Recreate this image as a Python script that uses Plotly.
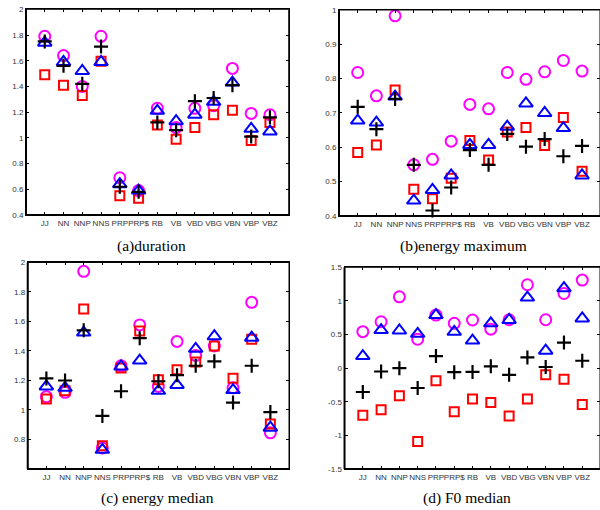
import plotly.graph_objects as go

categories = ["JJ", "NN", "NNP", "NNS", "PRP", "PRP$", "RB", "VB", "VBD", "VBG", "VBN", "VBP", "VBZ"]

duration_circle = [1.79, 1.64, 1.40, 1.79, 0.69, 0.59, 1.23, 1.08, 1.23, 1.25, 1.54, 1.19, 1.18]
duration_square = [1.49, 1.41, 1.33, 1.595, 0.55, 0.53, 1.10, 0.99, 1.08, 1.18, 1.215, 0.98, 1.12]
duration_triangle = [1.74, 1.59, 1.52, 1.59, 0.64, 0.59, 1.21, 1.13, 1.18, 1.28, 1.43, 1.07, 1.05]
duration_plus = [1.75, 1.56, 1.42, 1.71, 0.62, 0.58, 1.12, 1.06, 1.285, 1.31, 1.41, 1.01, 1.16]

emax_circle = [0.818, 0.75, 0.983, 0.549, 0.565, 0.618, 0.725, 0.712, 0.818, 0.798, 0.82, 0.853, 0.822]
emax_square = [0.585, 0.607, 0.767, 0.478, 0.45, 0.51, 0.62, 0.563, 0.645, 0.658, 0.605, 0.687, 0.53]
emax_triangle = [0.678, 0.672, 0.748, 0.445, 0.476, 0.518, 0.607, 0.607, 0.66, 0.728, 0.70, 0.656, 0.518]
emax_plus = [0.718, 0.653, 0.741, 0.549, 0.416, 0.483, 0.592, 0.549, 0.639, 0.602, 0.624, 0.574, 0.604]

emed_circle = [1.09, 1.12, 1.94, 0.743, 1.30, 1.577, 1.16, 1.465, 1.37, 1.434, 1.15, 1.73, 0.845]
emed_square = [1.075, 1.13, 1.685, 0.757, 1.285, 1.535, 1.205, 1.273, 1.325, 1.434, 1.215, 1.48, 0.905]
emed_triangle = [1.16, 1.15, 1.525, 0.73, 1.295, 1.335, 1.13, 1.17, 1.415, 1.50, 1.135, 1.49, 0.88]
emed_plus = [1.214, 1.20, 1.54, 0.96, 1.127, 1.487, 1.195, 1.236, 1.30, 1.33, 1.05, 1.30, 0.986]

f0_circle = [0.543, 0.69, 1.06, 0.43, 0.79, 0.667, 0.716, 0.58, 0.72, 1.24, 0.72, 1.11, 1.31]
f0_square = [-0.70, -0.62, -0.41, -1.09, -0.186, -0.65, -0.46, -0.51, -0.71, -0.46, -0.097, -0.166, -0.54]
f0_triangle = [0.18, 0.567, 0.56, 0.51, 0.79, 0.54, 0.41, 0.667, 0.716, 1.05, 0.26, 1.19, 0.74]
f0_plus = [-0.355, -0.05, 0.0, -0.295, 0.18, -0.06, -0.057, 0.027, -0.10, 0.16, 0.017, 0.38, 0.11]

titles = ["(a)duration", "(b)energy maximum", "(c) energy median", "(d) F0 median"]

ytick_a = [0.4, 0.6, 0.8, 1.0, 1.2, 1.4, 1.6, 1.8, 2.0]
ytick_a_text = ["0.4", "0.6", "0.8", "1", "1.2", "1.4", "1.6", "1.8", "2"]
ytick_b = [0.4, 0.5, 0.6, 0.7, 0.8, 0.9, 1.0]
ytick_b_text = ["0.4", "0.5", "0.6", "0.7", "0.8", "0.9", "1"]
ytick_c = [0.8, 1.0, 1.2, 1.4, 1.6, 1.8, 2.0]
ytick_c_text = ["0.8", "1", "1.2", "1.4", "1.6", "1.8", "2"]
ytick_d = [-1.5, -1.0, -0.5, 0.0, 0.5, 1.0, 1.5]
ytick_d_text = ["-1.5", "-1", "-0.5", "0", "0.5", "1", "1.5"]

panels = [
    dict(data=[duration_circle, duration_square, duration_triangle, duration_plus],
         xd=[0.0433, 0.4812], yd=[0.5784, 0.9818], xr=[-1, 13], yr=[0.4, 2.0],
         yt=ytick_a, ytt=ytick_a_text, tx=0.253, ty=0.5176),
    dict(data=[emax_circle, emax_square, emax_triangle, emax_plus],
         xd=[0.565, 1.0], yd=[0.5765, 0.9804], xr=[-1, 12.96], yr=[0.4, 1.0],
         yt=ytick_b, ytt=ytick_b_text, tx=0.772, ty=0.5176),
    dict(data=[emed_circle, emed_square, emed_triangle, emed_plus],
         xd=[0.0462, 0.4817], yd=[0.0804, 0.4853], xr=[-1, 13], yr=[0.6, 2.0],
         yt=ytick_c, ytt=ytick_c_text, tx=0.262, ty=0.0235),
    dict(data=[f0_circle, f0_square, f0_triangle, f0_plus],
         xd=[0.5742, 1.0], yd=[0.0804, 0.4759], xr=[-1, 12.97], yr=[-1.5, 1.5],
         yt=ytick_d, ytt=ytick_d_text, tx=0.778, ty=0.0235),
]

styles = [
    dict(symbol="circle-open", size=11, color="#ff00ff", width=2),
    dict(symbol="square-open", size=9, color="#ff0000", width=2),
    dict(symbol="triangle-up-open", size=12, color="#0000ff", width=2),
    dict(symbol="cross-thin-open", size=10, color="#000000", width=2.2),
]

fig = go.Figure()
tickfont = dict(family="Liberation Sans, Arial, sans-serif", size=8, color="#333333")

for i, p in enumerate(panels):
    n = i + 1
    xa = "x" if n == 1 else f"x{n}"
    ya = "y" if n == 1 else f"y{n}"
    for vals, st in zip(p["data"], styles):
        fig.add_trace(go.Scatter(
            x=categories, y=vals, mode="markers", xaxis=xa, yaxis=ya,
            showlegend=False, cliponaxis=False, hoverinfo="skip",
            marker=dict(symbol=st["symbol"], size=st["size"], color=st["color"],
                        line=dict(color=st["color"], width=st["width"])),
        ))
    xkey = "xaxis" if n == 1 else f"xaxis{n}"
    ykey = "yaxis" if n == 1 else f"yaxis{n}"
    fig.update_layout(**{
        xkey: dict(domain=p["xd"], anchor=ya, type="category", range=p["xr"],
                   categoryorder="array", categoryarray=categories, automargin=False,
                   showline=True, linecolor="black", linewidth=1, mirror="ticks",
                   ticks="inside", ticklen=3, tickcolor="black", tickwidth=1,
                   showgrid=False, zeroline=False, tickfont=tickfont, tickangle=0),
        ykey: dict(domain=p["yd"], anchor=xa, range=p["yr"], tickvals=p["yt"], ticktext=p["ytt"],
                   automargin=False,
                   showline=True, linecolor="black", linewidth=1, mirror="ticks",
                   ticks="inside", ticklen=3, tickcolor="black", tickwidth=1,
                   showgrid=False, zeroline=False, tickfont=tickfont),
    })
    fig.add_shape(type="rect", xref=f"{xa} domain", yref=f"{ya} domain",
                  x0=0, x1=1, y0=0, y1=1, line=dict(color="black", width=1))
    fig.add_shape(type="line", xref=f"{xa} domain", yref=f"{ya} domain",
                  x0=0, x1=1, y0=0, y1=0, line=dict(color="black", width=2))
    fig.add_shape(type="line", xref=f"{xa} domain", yref=f"{ya} domain",
                  x0=0, x1=0, y0=0, y1=1, line=dict(color="black", width=2))
    fig.add_annotation(text=titles[i], x=p["tx"], y=p["ty"], xref="paper", yref="paper",
                       showarrow=False, xanchor="center", yanchor="middle",
                       font=dict(family="Liberation Serif, Times New Roman, serif", size=15.5, color="black"))

fig.update_layout(width=600, height=510, margin=dict(l=0, r=0, t=0, b=0),
                  paper_bgcolor="white", plot_bgcolor="white", hovermode=False)

fig.write_html("out.html", config={"displayModeBar": False, "staticPlot": True},
               post_script="document.body.style.margin='0';document.body.style.padding='0';document.body.style.overflow='hidden';")
